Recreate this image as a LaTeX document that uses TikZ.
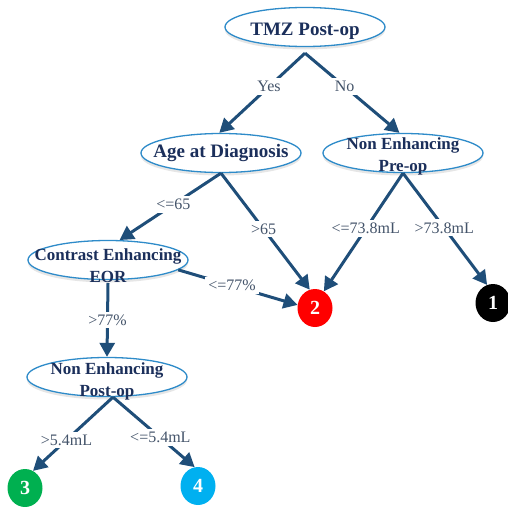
\documentclass[tikz,border=0pt]{standalone}
\usepackage{fontspec}
\setmainfont{Liberation Serif}
\usetikzlibrary{shapes.geometric,arrows.meta,shadows}
\definecolor{edgeblue}{HTML}{1F4E79}
\definecolor{rimblue}{HTML}{2E8BC9}
\definecolor{navy}{HTML}{1B2F5B}
\definecolor{labgrey}{HTML}{44546A}
\definecolor{leafgreen}{HTML}{00B050}
\definecolor{leafcyan}{HTML}{00B0F0}

\tikzset{
  split/.style={ellipse, draw=rimblue, line width=1.3pt, fill=white,
    minimum width=160pt, minimum height=39pt, inner sep=0pt,
    drop shadow={shadow xshift=0pt, shadow yshift=-3pt, opacity=0.2}},
  splitname/.style={font=\bfseries\fontsize{17}{22}\selectfont, text=navy, align=center},
  leaf/.style={ellipse, minimum width=35pt, minimum height=38pt, inner sep=0pt,
    text=white, font=\bfseries\fontsize{20}{20}\selectfont},
  link/.style={draw=edgeblue, line width=3pt, -{Triangle[length=14pt,width=15pt]}},
  cut/.style={fill=white, text=labgrey, inner sep=3pt, font=\fontsize{16}{18}\selectfont}
}

\begin{document}
\begin{tikzpicture}[x=1pt,y=-1pt]
    \useasboundingbox (0,0) rectangle (508,506);

    % splitting nodes
    \node[split, label={[splitname, font=\bfseries\fontsize{19}{22}\selectfont, yshift=-4pt]center:TMZ Post-op}] (root) at (305,27) {};
    \node[split, label={[splitname, font=\bfseries\fontsize{19}{22}\selectfont]center:Age at Diagnosis}] (age) at (221,153) {};
    \node[split, label={[splitname, yshift=-3pt]center:Non Enhancing\\Pre-op}] (pre) at (403,153) {};
    \node[split, label={[splitname, yshift=-6pt]center:Contrast Enhancing\\EOR}] (eor) at (108,260) {};
    \node[split, label={[splitname, yshift=-4pt]center:Non Enhancing\\Post-op}] (post) at (107,377) {};

    % outcomes
    \node[leaf, fill=black] (one) at (493,303) {1};
    \node[leaf, fill=red] (two) at (315,308) {2};
    \node[leaf, fill=leafgreen] (three) at (25,488) {3};
    \node[leaf, fill=leafcyan] (four) at (198,486) {4};

    % branches
    \draw[link] ([yshift=-6pt]root.south) -- node[cut, pos=.42]{Yes} (age.95);
    \draw[link] ([yshift=-6pt]root.south) -- node[cut, pos=.42]{No} (pre.100);
    \draw[link] (age.south) -- node[cut, pos=.47]{<=65} (eor.60);
    \draw[link] (age.south) -- node[cut, pos=.48]{>65} (two.106);
    \draw[link] (pre.south) -- node[cut, pos=.47]{<=73.8mL} (two.62);
    \draw[link] (pre.south) -- node[cut, pos=.49]{>73.8mL} (one.108);
    \draw[link] (eor.-8) -- node[cut, pos=.45]{<=77\%} (two.170);
    \draw[link] ([yshift=-3pt]eor.south) -- node[cut, pos=.5]{>77\%} (post.north);
    \draw[link] ([xshift=6pt]post.south) -- node[cut, pos=.58]{>5.4mL} (three.65);
    \draw[link] ([xshift=6pt]post.south) -- node[cut, pos=.58]{<=5.4mL} (four.100);
\end{tikzpicture}
\end{document}
